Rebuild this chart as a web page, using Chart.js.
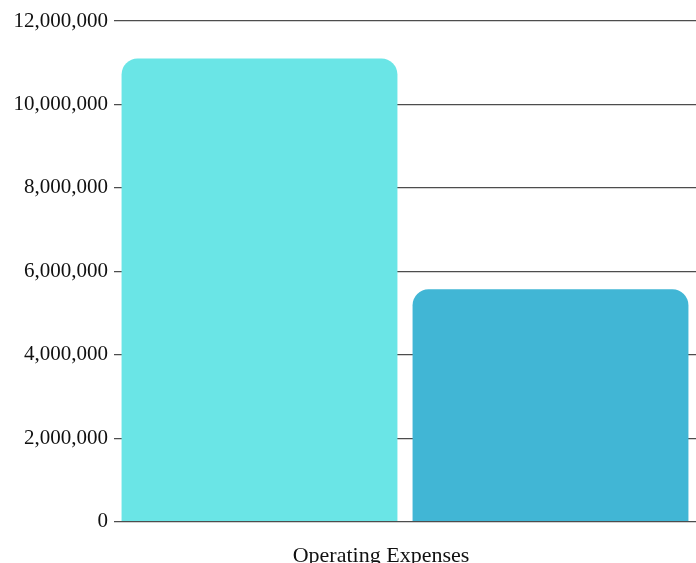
<!DOCTYPE html>
<html>
<head>
<meta charset="utf-8">
<script src="https://cdn.jsdelivr.net/npm/chart.js@4"></script>
<style>
  html, body { margin: 0; padding: 0; background: #fff; overflow: hidden; }
  #wrap { width: 696px; height: 582px; }
</style>
</head>
<body>
<div id="wrap"><canvas id="myChart"></canvas></div>
<script>
// chart data
const categories = ['Operating Expenses']
const seriesNames = ['Prior Year', 'Current Year']
const priorValues = [11100000]
const currentValues = [5570000]
const yMax = 12000000
const yStep = 2000000

const ctx = document.getElementById('myChart')
const serif = '"Liberation Serif", "Times New Roman", serif'

new Chart(ctx, {
  type: 'bar',
  data: {
    labels: categories,
    datasets: [
      {
        label: seriesNames[0],
        data: priorValues,
        backgroundColor: '#6ae5e6',
        borderRadius: { topLeft: 16, topRight: 16 },
        borderSkipped: 'bottom',
      },
      {
        label: seriesNames[1],
        data: currentValues,
        backgroundColor: '#41b6d5',
        borderRadius: { topLeft: 16, topRight: 16 },
        borderSkipped: 'bottom',
      }
    ]
  },
  options: {
    responsive: true,
    maintainAspectRatio: false,
    animation: false,
    layout: { padding: { top: 21, left: 7.5, right: 0, bottom: 0 } },
    datasets: {
      bar: { categoryPercentage: 1, barPercentage: 0.948 }
    },
    plugins: {
      legend: { display: false },
      tooltip: { enabled: false }
    },
    scales: {
      x: {
        grid: { display: false },
        border: { display: false },
        ticks: {
          color: '#111',
          padding: 13,
          labelOffset: -24,
          font: { family: serif, size: 22 }
        }
      },
      y: {
        min: 0,
        max: yMax,
        border: { display: false },
        grid: { color: '#4d4d4d', lineWidth: 1.3, drawTicks: false },
        ticks: {
          stepSize: yStep,
          color: '#111',
          padding: 6,
          font: { family: serif, size: 21 },
          callback: v => v.toLocaleString('en-US')
        }
      }
    }
  }
})
</script>
</body>
</html>
